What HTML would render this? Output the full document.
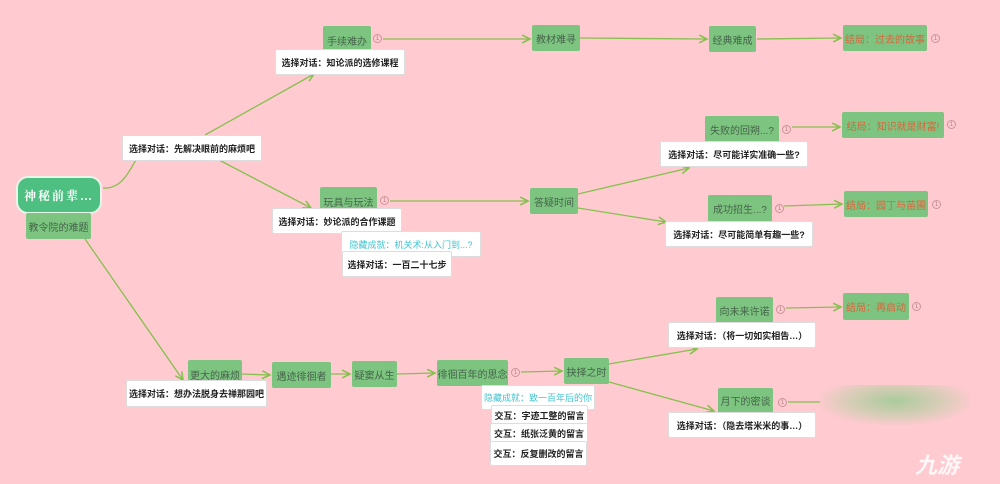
<!DOCTYPE html>
<html><head><meta charset="utf-8"><style>
body{margin:0;width:1000px;height:484px;background:#ffcad0;position:relative;overflow:hidden;font-family:"Liberation Sans","Noto Sans CJK SC",sans-serif;}
.n{position:absolute;box-sizing:border-box;display:flex;align-items:center;justify-content:center;white-space:nowrap;font-size:10px;}
.g{background:#7cc47f;color:#46644b;border-radius:2px;}
.e{background:#7cc47f;color:#d8663e;border-radius:2px;}
.w{background:#fff;color:#222;border:1px solid #ddd;border-radius:2px;font-weight:bold;font-size:9px;}
.c{color:#40c4d0;font-weight:normal;}
.o{position:absolute;width:9px;height:9px;border:1px solid #c9959b;border-radius:50%;font-size:6px;color:#b08086;display:flex;align-items:center;justify-content:center;box-sizing:border-box;}
svg{position:absolute;left:0;top:0}
</style></head><body>
<svg width="1000" height="484" fill="none" stroke="#86c04d" stroke-width="1.3">
<defs><marker id="a" markerWidth="8" markerHeight="8" refX="7" refY="4" orient="auto"><path d="M1,1 L7,4 L1,7" stroke="#86c04d" stroke-width="1.2" fill="none"/></marker></defs>
<path d="M103,188 C130,190 135,150 150,141" marker-end="url(#a)"/>
<path d="M205,135 L314,74" marker-end="url(#a)"/>
<path d="M219,160 L311,208" marker-end="url(#a)"/>
<path d="M85,239 L183,380" marker-end="url(#a)"/>
<path d="M383,39 L530,39" marker-end="url(#a)"/>
<path d="M580,38 L707,39" marker-end="url(#a)"/>
<path d="M757,39 L841,38" marker-end="url(#a)"/>
<path d="M390,201 L528,201" marker-end="url(#a)"/>
<path d="M578,194 L689,168" marker-end="url(#a)"/>
<path d="M578,208 L666,222" marker-end="url(#a)"/>
<path d="M792,127 L840,127" marker-end="url(#a)"/>
<path d="M784,206 L842,204" marker-end="url(#a)"/>
<path d="M242,374 L270,375" marker-end="url(#a)"/>
<path d="M331,374 L350,374" marker-end="url(#a)"/>
<path d="M397,374 L435,373" marker-end="url(#a)"/>
<path d="M521,372 L562,371" marker-end="url(#a)"/>
<path d="M609,364 L697,349" marker-end="url(#a)"/>
<path d="M609,382 L714,411" marker-end="url(#a)"/>
<path d="M786,308 L841,307" marker-end="url(#a)"/>
<path d="M788,402 L840,402"/>
</svg>
<div class="n" style="left:16px;top:176px;width:86px;height:38px;background:#4dbf80;border:2px solid #e8f5ea;border-radius:12px;color:#fff;font-family:'Liberation Serif','Noto Serif CJK SC',serif;font-weight:bold;font-size:12px;letter-spacing:2px">神秘前辈…</div>
<div class="n g" style="left:26px;top:213px;width:65px;height:26px">教令院的难题</div>
<div class="n w" style="left:122px;top:135px;width:140px;height:26px">选择对话：先解决眼前的麻烦吧</div>
<div class="n g" style="left:323px;top:26px;width:48px;height:28px">手续难办</div><div class="o" style="left:373px;top:34px">1</div>
<div class="n w" style="left:275px;top:49px;width:130px;height:26px">选择对话：知论派的选修课程</div>
<div class="n g" style="left:532px;top:25px;width:48px;height:26px">教材难寻</div>
<div class="n g" style="left:709px;top:26px;width:47px;height:26px">经典难成</div>
<div class="n e" style="left:843px;top:25px;width:84px;height:26px">结局：过去的故事</div><div class="o" style="left:931px;top:34px">1</div>
<div class="n g" style="left:320px;top:187px;width:57px;height:28px">玩具与玩法</div><div class="o" style="left:380px;top:196px">1</div>
<div class="n w" style="left:272px;top:208px;width:130px;height:26px">选择对话：妙论派的合作课题</div>
<div class="n w c" style="left:341px;top:231px;width:140px;height:26px">隐藏成就：机关术:从入门到...?</div>
<div class="n w" style="left:342px;top:251px;width:110px;height:26px">选择对话：一百二十七步</div>
<div class="n g" style="left:530px;top:188px;width:48px;height:26px">答疑时间</div>
<div class="n g" style="left:705px;top:116px;width:74px;height:27px">失败的回朔...?</div><div class="o" style="left:782px;top:125px">1</div>
<div class="n w" style="left:660px;top:141px;width:148px;height:26px">选择对话：尽可能详实准确一些?</div>
<div class="n e" style="left:842px;top:112px;width:102px;height:26px">结局：知识就是财富!</div><div class="o" style="left:947px;top:120px">1</div>
<div class="n g" style="left:708px;top:195px;width:64px;height:27px">成功招生...?</div><div class="o" style="left:775px;top:204px">1</div>
<div class="n w" style="left:665px;top:221px;width:148px;height:26px">选择对话：尽可能简单有趣一些?</div>
<div class="n e" style="left:844px;top:191px;width:84px;height:26px">结局：园丁与苗圃</div><div class="o" style="left:932px;top:200px">1</div>
<div class="n g" style="left:188px;top:360px;width:54px;height:28px">更大的麻烦</div>
<div class="n w" style="left:126px;top:380px;width:141px;height:27px">选择对话：想办法脱身去禅那园吧</div>
<div class="n g" style="left:272px;top:362px;width:59px;height:26px">遇迹徘徊者</div>
<div class="n g" style="left:352px;top:361px;width:45px;height:26px">疑窦从生</div>
<div class="n g" style="left:437px;top:360px;width:71px;height:26px">徘徊百年的思念</div><div class="o" style="left:511px;top:368px">1</div>
<div class="n g" style="left:564px;top:358px;width:45px;height:26px">抉择之时</div>
<div class="n w c" style="left:481px;top:385px;width:114px;height:25px">隐藏成就：致一百年后的你</div>
<div class="n w" style="left:491px;top:405px;width:97px;height:20px">交互：字迹工整的留言</div>
<div class="n w" style="left:490px;top:423px;width:98px;height:20px">交互：纸张泛黄的留言</div>
<div class="n w" style="left:490px;top:441px;width:97px;height:25px">交互：反复删改的留言</div>
<div class="n g" style="left:716px;top:297px;width:57px;height:26px">向未来许诺</div><div class="o" style="left:776px;top:305px">1</div>
<div class="n w" style="left:668px;top:322px;width:148px;height:26px">选择对话：（将一切如实相告…）</div>
<div class="n e" style="left:843px;top:293px;width:66px;height:27px">结局：再启动</div><div class="o" style="left:912px;top:302px">1</div>
<div class="n g" style="left:718px;top:388px;width:55px;height:25px">月下的密谈</div><div class="o" style="left:778px;top:398px">1</div>
<div class="n w" style="left:668px;top:412px;width:148px;height:26px">选择对话：（隐去塔米米的事…）</div>
<div style="position:absolute;left:820px;top:385px;width:150px;height:40px;background:radial-gradient(ellipse at 50% 40%,#aacb9c 0%,#d9cdb8 45%,#ffcad0 75%)"></div>
<div style="position:absolute;left:915px;top:448px;font-size:22px;color:#fff;font-style:italic;font-weight:bold;opacity:.85">九游</div>
</body></html>
